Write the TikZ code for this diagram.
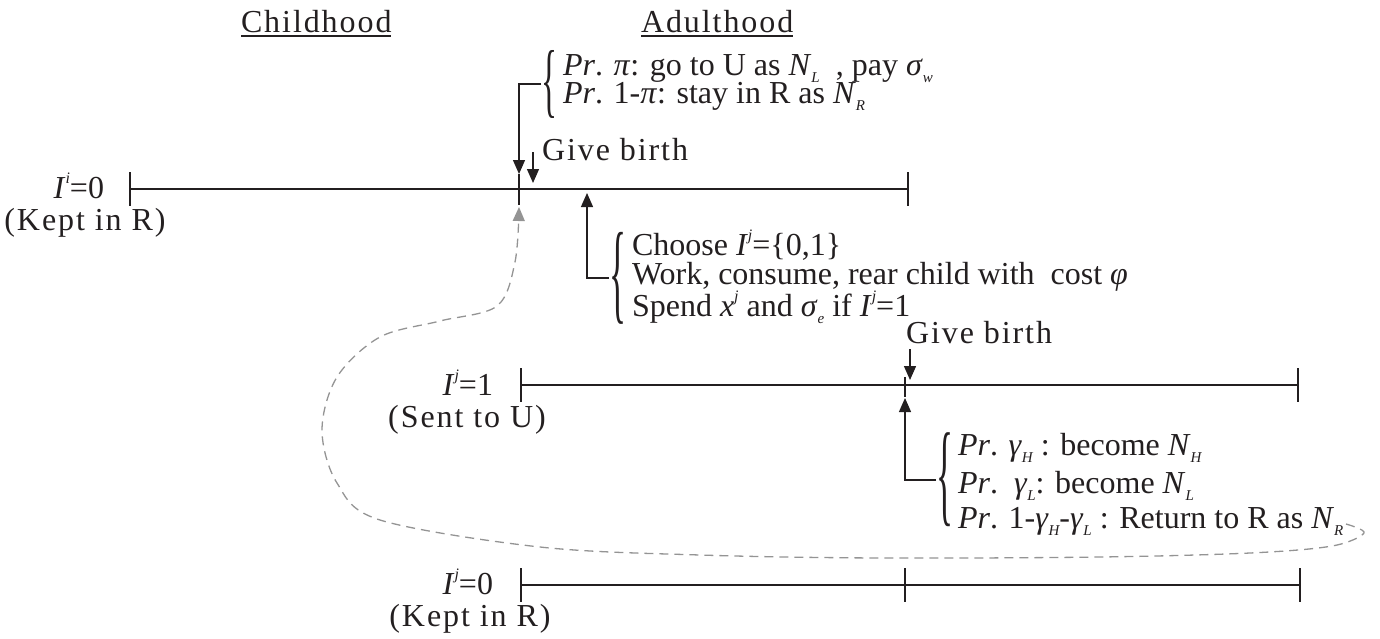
\documentclass[tikz,border=0pt]{standalone}
\usepackage{fontspec}
\setmainfont{Liberation Serif}
\newfontfamily\spaced{Liberation Serif}[LetterSpace=6]
\usetikzlibrary{arrows.meta}
\newcommand{\lsub}[1]{\raisebox{-0.22em}{\fontsize{15}{15}\selectfont\itshape #1}}
\newcommand{\lsup}[1]{\raisebox{0.45em}{\fontsize{16}{16}\selectfont\itshape #1}}
\newcommand{\tallbrace}[2]{\resizebox*{#1}{#2}{\fontsize{32}{32}\selectfont\{}}
\definecolor{ink}{HTML}{231F20}
\begin{document}
\begin{tikzpicture}[x=1pt,y=-1pt,
  every node/.style={inner sep=0pt, outer sep=0pt, text=ink},
  txt/.style={anchor=base west, font=\fontsize{32}{36}\selectfont},
  lab/.style={anchor=base east, font=\fontsize{32}{36}\selectfont},
  par/.style={anchor=base, font=\fontsize{32}{36}\selectfont\spaced},
  brc/.style={anchor=west},
  tl/.style={line width=1.6pt, draw=ink},
  conn/.style={line width=1.3pt, draw=ink},
  uline/.style={line width=2pt, draw=ink},
  tip/.style={-{Triangle[length=14pt,width=12pt]}},
  ret/.style={draw=black!42, line width=1.3pt, dash pattern=on 9pt off 6pt,
              -{Triangle[length=14pt,width=12pt]}}]
\useasboundingbox (0,0) rectangle (1380,638);

% headers
\node[txt] (ch) at (241,32) {\spaced Childhood};
\node[txt] (ad) at (641,32) {\spaced Adulthood};
\draw[uline] ([yshift=-4pt]ch.base west) -- ([yshift=-4pt]ch.base east);
\draw[uline] ([yshift=-4pt]ad.base west) -- ([yshift=-4pt]ad.base east);

% time lines
\coordinate (a0) at (130,189); \coordinate (am) at (519,189); \coordinate (a1) at (908,189);
\coordinate (b0) at (521,385); \coordinate (bm) at (905,385); \coordinate (b1) at (1298,385);
\coordinate (c0) at (521,585); \coordinate (cm) at (905,585); \coordinate (c1) at (1300,585);
\draw[tl] (a0) -- (a1);
\draw[tl] (b0) -- (b1);
\draw[tl] (c0) -- (c1);
\foreach \p in {a0,a1,b0,b1,c0,cm,c1}
  \draw[tl] ([yshift=17pt]\p) -- ([yshift=-17pt]\p);
\draw[tl] ([yshift=15pt]am) -- ([yshift=-16pt]am);
\draw[tl] ([yshift=8pt]bm) -- ([yshift=-12pt]bm);

% labels
\node[lab] (l1) at (104,198) {\textit{I}\lsup{i}=0};
\node[par] (k1) at (85,230) {(Kept in R)};
\node[lab] (l2) at (493,395) {\textit{I}\lsup{j}=1};
\node[par] (s2) at (467,427) {(Sent to U)};
\node[lab] (l3) at (493,594) {\textit{I}\lsup{j}=0};
\node[par] (k3) at (470,626) {(Kept in R)};

% top group
\node[brc] (br1) at (541,84) {\tallbrace{16pt}{68pt}};
\node[txt] (p1) at (563,75) {\textit{Pr}. \textit{π}: go to U as \textit{N}\lsub{L}\ \ , pay \textit{σ}\lsub{w}};
\node[txt] (p2) at (563,103) {\textit{Pr}. 1-\textit{π}: stay in R as \textit{N}\lsub{R}};
\coordinate (dn1) at (519,174);
\draw[conn,tip] (br1.west) -| (dn1);

\node[txt] (gb1) at (542,160) {\spaced Give birth};
\coordinate (g1s) at (533,152); \coordinate (g1e) at (533,183);
\draw[conn,tip] (g1s) -- (g1e);

% middle group
\node[brc] (br2) at (609,278) {\tallbrace{17pt}{92pt}};
\node[txt] (c1t) at (632,255) {Choose \textit{I}\lsup{j}=\{0,1\}};
\node[txt] (c2t) at (632,284) {Work, consume, rear child with\ \ cost \textit{φ}};
\node[txt] (c3t) at (632,316) {Spend \textit{x}\lsup{j} and \textit{σ}\lsub{e} if \textit{I}\lsup{j}=1};
\coordinate (up1) at (587,193);
\draw[conn,tip] (br2.west) -| (up1);

% second give birth
\node[txt] (gb2) at (906,343) {\spaced Give birth};
\coordinate (g2s) at (910,349); \coordinate (g2e) at (910,380);
\draw[conn,tip] (g2s) -- (g2e);

% lower group
\node[brc] (br3) at (936,480) {\tallbrace{17pt}{94pt}};
\node[txt] (q1) at (958,455) {\textit{Pr}. \textit{γ}\lsub{H} : become \textit{N}\lsub{H}};
\node[txt] (q2) at (958,493) {\textit{Pr}.\ \ \textit{γ}\lsub{L}: become \textit{N}\lsub{L}};
\node[txt] (q3) at (958,528) {\textit{Pr}. 1-\textit{γ}\lsub{H}-\textit{γ}\lsub{L} : Return to R as \textit{N}\lsub{R}};
\coordinate (up2) at (905,398);
\draw[conn,tip] (br3.west) -| (up2);

% return path
\coordinate (rs) at (1346,524);
\coordinate (re) at (519,207);
\draw[ret] plot[smooth,tension=0.55] coordinates {(rs) (1364,533) (1332,546) (1250,553) (1100,557) (880,558) (700,555) (540,547) (380,520) (337,483) (322,430) (337,377) (380,337) (440,321) (497,306) (515,262) (re)};
\end{tikzpicture}
\end{document}
